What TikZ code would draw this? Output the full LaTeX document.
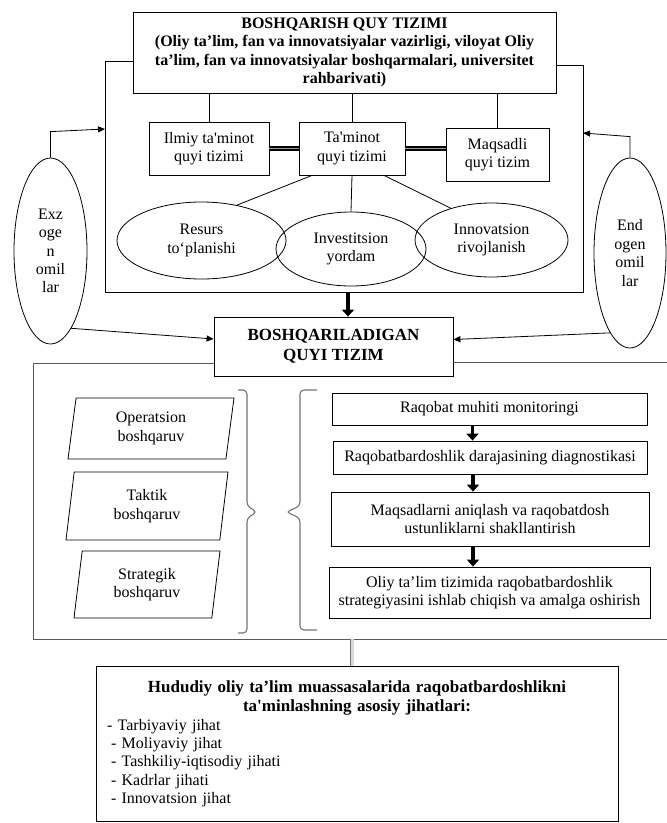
\documentclass[tikz,border=0pt]{standalone}
\usepackage{fontspec}
\setmainfont{Liberation Serif}[Ligatures=TeXOff]
\usetikzlibrary{arrows.meta,shapes.geometric}

\begin{document}
\begin{tikzpicture}[x=1pt, y=-1pt,
  every node/.style={font=\fontsize{16}{18.4}\selectfont, align=center, inner sep=0pt},
  box/.style={draw, line width=0.8pt},
  oval/.style={draw, line width=0.8pt, ellipse},
  para/.style={draw, line width=0.8pt, trapezium, trapezium left angle=76, trapezium right angle=104, trapezium stretches body},
  headtext/.style={font=\fontsize{16}{18.4}\selectfont\bfseries},
  bigtext/.style={font=\fontsize{17}{20}\selectfont\bfseries},
  link/.style={line width=0.8pt},
  arr/.style={line width=0.8pt, -{Triangle[length=7pt,width=6pt]}},
  bigarrow/.style={line width=3.5pt, -{Triangle[length=7pt,width=12pt]}},
  dbl/.style={line width=1.3pt, double=black!40, double distance=1.6pt},
  dblgray/.style={line width=0.8pt, draw=black!55, double=black!15, double distance=3pt},
  framegray/.style={line width=1pt, draw=black!65},
  bracegray/.style={line width=1.1pt, draw=black!55, rounded corners=4pt}
]
  \useasboundingbox (0,0) rectangle (667,823);

  \node[box, headtext, minimum width=423, minimum height=81] (boshq) at (344.5,52.5)
    {BOSHQARISH QUY TIZIMI\\(Oliy ta’lim, fan va innovatsiyalar vazirligi, viloyat Oliy\\ta’lim, fan va innovatsiyalar boshqarmalari, universitet\\rahbarivati)};
  \node[box, minimum width=120, minimum height=53] (ilmiy) at (209,148.5) {Ilmiy ta'minot\\quyi tizimi};
  \node[box, minimum width=106, minimum height=53] (taminot) at (352,148.5) {Ta'minot\\quyi tizimi};
  \node[box, minimum width=103, minimum height=53] (maqsad) at (497.5,154.5) {Maqsadli\\quyi tizim};
  \node[oval, minimum width=169, minimum height=77] (resurs) at (201.5,240.5) {Resurs\\to‘planishi};
  \node[oval, minimum width=150, minimum height=74] (invest) at (351,249) {Investitsion\\yordam};
  \node[oval, minimum width=153, minimum height=74] (innov) at (491.5,240) {Innovatsion\\rivojlanish};
  \node[oval, minimum width=73, minimum height=186] (exz) at (50.5,251) {Exz\\oge\\n\\omil\\lar};
  \node[oval, minimum width=72, minimum height=190] (endo) at (630,253) {End\\ogen\\omil\\lar};
  \node[box, bigtext, minimum width=239, minimum height=59] (bq) at (333.5,346.5) {BOSHQARILADIGAN\\QUYI TIZIM};

  \node[para, minimum width=166, minimum height=61] (oper) at (151,428.5) {Operatsion\\boshqaruv};
  \node[para, minimum width=162, minimum height=68] (taktik) at (147,506) {Taktik\\boshqaruv};
  \node[para, minimum width=146, minimum height=67] (strat) at (147,584.5) {Strategik\\boshqaruv};

  \node[box, minimum width=315, minimum height=32] (monit) at (489.5,409) {Raqobat muhiti monitoringi};
  \node[box, minimum width=314, minimum height=33] (diagn) at (490,457.5) {Raqobatbardoshlik darajasining diagnostikasi};
  \node[box, minimum width=318, minimum height=54] (maqs) at (490,519) {Maqsadlarni aniqlash va raqobatdosh\\ustunliklarni shakllantirish};
  \node[box, minimum width=321, minimum height=51] (oliy) at (489.5,592.5) {Oliy ta’lim tizimida raqobatbardoshlik\\strategiyasini ishlab chiqish va amalga oshirish};

  \node[box, anchor=north, minimum height=155, text width=500, inner xsep=11pt, align=left] (asp) at (357,666)
    {{\centering\fontsize{17}{19}\selectfont\bfseries Hududiy oliy ta’lim muassasalarida raqobatbardoshlikni\\ta'minlashning asosiy jihatlari:\par}
     - Tarbiyaviy jihat\\
     \hspace*{4pt}- Moliyaviy jihat\\
     \hspace*{4pt}- Tashkiliy-iqtisodiy jihati\\
     \hspace*{4pt}- Kadrlar jihati\\
     \hspace*{4pt}- Innovatsion jihat};

  \coordinate (fTL) at (105,61);
  \coordinate (fBL) at (105,292);
  \coordinate (fBR) at (583,292);
  \coordinate (fTR) at (583,65);
  \coordinate (fB) at (348,292);
  \coordinate (exzin) at (105,129);
  \coordinate (endin) at (583,133);
  \coordinate (gL) at (33,363);
  \coordinate (gBL) at (33,639);
  \coordinate (gBR) at (667,639);
  \coordinate (gR) at (667,362);
  \coordinate (gD) at (352,639);
  \coordinate (brR) at (238,390);
  \coordinate (brL) at (317,390);

  \draw[link] (boshq.west |- fTL) -- (fTL) -- (fBL) -- (fBR) -- (fTR) -- (boshq.east |- fTR);
  \draw[link] (ilmiy.north) -- (ilmiy.north |- boshq.south);
  \draw[link] (taminot.north) -- (taminot.north |- boshq.south);
  \draw[link] (maqsad.north) -- (maqsad.north |- boshq.south);
  \draw[dbl] (ilmiy.east) -- (taminot.west);
  \draw[dbl] (taminot.east) -- (taminot.east -| maqsad.west);
  \draw[link] (taminot.south) -- (invest.north);
  \draw[link] ([xshift=-40pt]taminot.south) -- (resurs.45);
  \draw[link] ([xshift=32pt]taminot.south) -- (innov.142);
  \draw[arr] (exz.north) -- ++(0,-26) -- (exzin);
  \draw[arr] (endo.north) -- ++(0,-21) -- (endin);
  \draw[arr] (exz.-75) -- ([yshift=7.5pt]bq.west);
  \draw[arr] (endo.-104) -- ([yshift=7pt]bq.east);
  \draw[bigarrow] (fB) -- (fB |- bq.north);

  \draw[framegray] (bq.west |- gL) -- (gL) -- (gBL) -- (gBR);
  \draw[framegray] (bq.east |- gR) -- (gR);
  \draw[bracegray] (brR) -- ++(9,0) -- ++(0,116) -- ++(10,6) -- ++(-10,6) -- ++(0,115) -- ++(-9,0);
  \draw[bracegray] (brL) -- ++(-17,0) -- ++(0,116) -- ++(-14,6) -- ++(14,6) -- ++(0,112) -- ++(17,0);
  \draw[bigarrow] ([xshift=-17pt]monit.south) -- ([xshift=-17pt]monit.south |- diagn.north);
  \draw[bigarrow] ([xshift=-17pt]diagn.south) -- ([xshift=-17pt]diagn.south |- maqs.north);
  \draw[bigarrow] ([xshift=-17pt]maqs.south) -- ([xshift=-17pt]maqs.south |- oliy.north);
  \draw[dblgray] (gD) -- (gD |- asp.north);
\end{tikzpicture}
\end{document}
